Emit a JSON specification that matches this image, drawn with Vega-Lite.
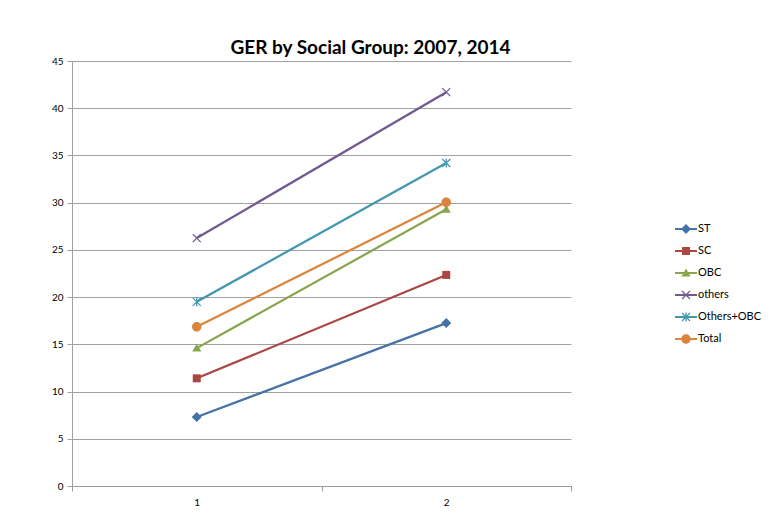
{
  "$schema": "https://vega.github.io/schema/vega-lite/v6.json",
  "width": 499,
  "height": 425,
  "autosize": "none",
  "padding": {"left": 72, "top": 61, "right": 207, "bottom": 37},
  "background": "white",
  "title": {
    "text": "GER by Social Group: 2007, 2014",
    "font": "Lato",
    "fontSize": 19,
    "fontWeight": "bold",
    "color": "#000000",
    "anchor": "middle",
    "frame": "group",
    "dx": 49,
    "dy": 26,
    "baseline": "alphabetic",
    "offset": 9
  },
  "data": {
    "values": [
      {"series": "ST", "t": 1, "value": 7.3},
      {"series": "ST", "t": 2, "value": 17.25},
      {"series": "SC", "t": 1, "value": 11.4},
      {"series": "SC", "t": 2, "value": 22.35},
      {"series": "OBC", "t": 1, "value": 14.6},
      {"series": "OBC", "t": 2, "value": 29.3},
      {"series": "others", "t": 1, "value": 26.25},
      {"series": "others", "t": 2, "value": 41.7},
      {"series": "Others+OBC", "t": 1, "value": 19.5},
      {"series": "Others+OBC", "t": 2, "value": 34.2},
      {"series": "Total", "t": 1, "value": 16.85},
      {"series": "Total", "t": 2, "value": 30.05}
    ]
  },
  "encoding": {
    "x": {
      "field": "t",
      "type": "ordinal",
      "scale": {"type": "band", "paddingInner": 0, "paddingOuter": 0},
      "axis": {
        "title": null,
        "labelAngle": 0,
        "tickBand": "extent",
        "tickSize": 5,
        "tickColor": "#999999",
        "domainColor": "#999999",
        "labelFont": "Lato",
        "labelFontSize": 10,
        "labelColor": "#000000",
        "labelPadding": 6,
        "grid": false
      }
    },
    "y": {
      "field": "value",
      "type": "quantitative",
      "scale": {"domain": [0, 45], "nice": false, "zero": true},
      "axis": {
        "title": null,
        "values": [0, 5, 10, 15, 20, 25, 30, 35, 40, 45],
        "grid": true,
        "gridColor": "#a0a0a0",
        "tickSize": 5,
        "tickColor": "#a0a0a0",
        "domainColor": "#a0a0a0",
        "labelFont": "Lato",
        "labelFontSize": 10,
        "labelColor": "#000000",
        "labelPadding": 4
      }
    }
  },
  "layer": [
    {
      "layer": [
        {
          "mark": {"type": "line", "strokeWidth": 2.25},
          "encoding": {
            "color": {
              "field": "series",
              "type": "nominal",
              "scale": {
                "domain": ["ST", "SC", "OBC", "others", "Others+OBC", "Total"],
                "range": ["#4572A7", "#AA4643", "#89A54E", "#71588F", "#4198AF", "#DB843D"]
              },
              "legend": null
            }
          }
        },
        {
          "mark": {"type": "point", "filled": true, "opacity": 1, "size": 100, "strokeWidth": 0},
          "encoding": {
            "color": {
              "field": "series",
              "type": "nominal",
              "scale": {
                "domain": ["ST", "SC", "OBC", "others", "Others+OBC", "Total"],
                "range": ["#4572A7", "#AA4643", "#89A54E", "#71588F", "#4198AF", "#DB843D"]
              },
              "legend": null
            },
            "shape": {
              "field": "series",
              "type": "nominal",
              "scale": {
                "domain": ["ST", "SC", "OBC", "others", "Others+OBC", "Total"],
                "range": [
                  "M0,-1L1,0L0,1L-1,0Z",
                  "M-0.8,-0.8H0.8V0.8H-0.8Z",
                  "M0,-0.9L0.9,0.7L-0.9,0.7Z",
                  "M-0.71,-0.89L0.89,0.71L0.71,0.89L-0.89,-0.71Z M-0.89,0.71L0.71,-0.89L0.89,-0.71L-0.71,0.89Z",
                  "M-0.71,-0.89L0.89,0.71L0.71,0.89L-0.89,-0.71Z M-0.89,0.71L0.71,-0.89L0.89,-0.71L-0.71,0.89Z M-0.13,-0.9H0.13V0.9H-0.13Z",
                  "M-0.95,0A0.95,0.95 0 1,1 0.95,0A0.95,0.95 0 1,1 -0.95,0Z"
                ]
              },
              "legend": null
            }
          }
        }
      ]
    },
    {
      "transform": [{"filter": "false"}],
      "mark": {"type": "point", "filled": true, "opacity": 1, "strokeWidth": 0},
      "encoding": {
        "color": {
          "field": "series",
          "type": "nominal",
          "scale": {
            "domain": ["ST", "SC", "OBC", "others", "Others+OBC", "Total"],
            "range": ["#4572A7", "#AA4643", "#89A54E", "#71588F", "#4198AF", "#DB843D"]
          },
          "legend": {"orient": "none", "legendX": 603, "legendY": 157, "title": null}
        },
        "shape": {
          "field": "series",
          "type": "nominal",
          "scale": {
            "domain": ["ST", "SC", "OBC", "others", "Others+OBC", "Total"],
            "range": [
              "M-1,-0.1H1V0.1H-1Z M0,-0.45L0.45,0L0,0.45L-0.45,0Z",
              "M-1,-0.1H1V0.1H-1Z M-0.36,-0.36H0.36V0.36H-0.36Z",
              "M-1,-0.1H1V0.1H-1Z M0,-0.41L0.41,0.32L-0.41,0.32Z",
              "M-1,-0.08H1V0.08H-1Z M-0.32,-0.4L0.4,0.32L0.32,0.4L-0.4,-0.32Z M-0.4,0.32L0.32,-0.4L0.4,-0.32L-0.32,0.4Z",
              "M-1,-0.1H1V0.1H-1Z M-0.32,-0.4L0.4,0.32L0.32,0.4L-0.4,-0.32Z M-0.4,0.32L0.32,-0.4L0.4,-0.32L-0.32,0.4Z M-0.06,-0.41H0.06V0.41H-0.06Z",
              "M-1,-0.1H1V0.1H-1Z M-0.43,0A0.43,0.43 0 1,1 0.43,0A0.43,0.43 0 1,1 -0.43,0Z"
            ]
          },
          "legend": {"orient": "none", "legendX": 603, "legendY": 157, "title": null}
        }
      }
    }
  ],
  "resolve": {"scale": {"color": "independent", "shape": "independent"}},
  "config": {
    "view": {"stroke": null},
    "legend": {
      "symbolSize": 484,
      "symbolStrokeWidth": 0,
      "labelFont": "Lato",
      "labelFontSize": 11,
      "labelColor": "#000000",
      "labelOffset": 1,
      "rowPadding": 6,
      "padding": 0
    }
  }
}
